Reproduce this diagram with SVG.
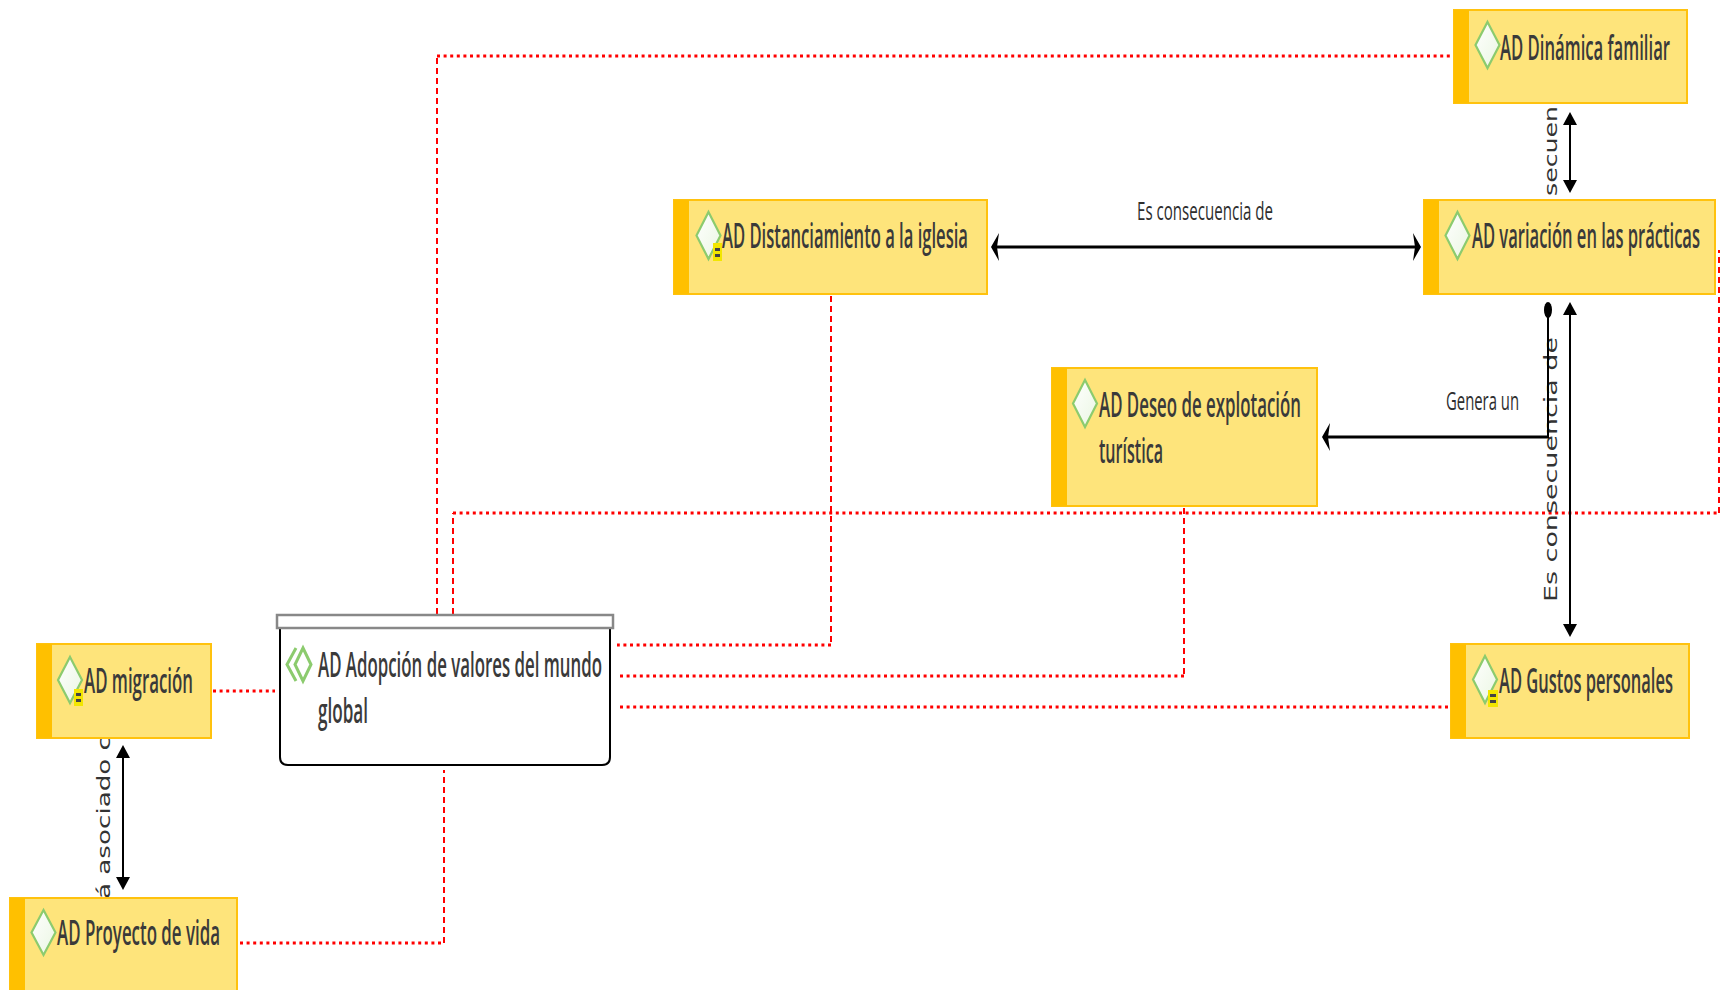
<svg xmlns="http://www.w3.org/2000/svg" width="1726" height="990" viewBox="0 0 1726 990">
<style>
.box{fill:#FEE47B;stroke:#FFC20E;stroke-width:2}
.strip{fill:#FFC000}
.dia{fill:url(#dg);stroke:#8CCB6E;stroke-width:2.2}
.ico{fill:#F2E600}
.icob{fill:#444}
.t{font-family:"Open Sans","Liberation Sans",sans-serif;font-size:34px;font-weight:600;fill:#3A3A3A}
.lbl{font-family:"Open Sans","Liberation Sans",sans-serif;font-size:26px;fill:#2E2E2E}
.vl{font-family:"DejaVu Sans","Liberation Sans",sans-serif;font-size:17px;fill:#333}
.rh{fill:none;stroke:#FF0000;stroke-width:3;stroke-dasharray:3 3.6}
.rv{fill:none;stroke:#FF0000;stroke-width:2;stroke-dasharray:6 4}
.lh{fill:none;stroke:#000;stroke-width:3}
.lv{fill:none;stroke:#000;stroke-width:2}
.ah{fill:#000}
</style>
<defs>
<linearGradient id="dg" x1="0" y1="0" x2="1" y2="1">
<stop offset="0" stop-color="#FFFFFF"/>
<stop offset="1" stop-color="#EAF6E2"/>
</linearGradient>
<path id="aL" d="M0,0 L8,-14 L6,0 L8,14 Z"/>
<path id="aR" d="M0,0 L-8,-14 L-6,0 L-8,14 Z"/>
<path id="aU" d="M0,0 L7,13 L-7,13 Z"/>
<path id="aD" d="M0,0 L7,-13 L-7,-13 Z"/>
</defs>
<rect width="1726" height="990" fill="#FFFFFF"/>
<g id="connectors">
<path class="rv" d="M437,614 V56"/>
<path class="rh" d="M437,56 H1452"/>
<path class="rv" d="M453,614 V513"/>
<path class="rh" d="M453,513 H1719"/>
<path class="rv" d="M1719,513 V250"/>
<path class="rv" d="M831,296 V645"/>
<path class="rh" d="M831,645 H617"/>
<path class="rv" d="M1184,508 V676"/>
<path class="rh" d="M1184,676 H617"/>
<path class="rh" d="M1448,707 H617"/>
<path class="rh" d="M213,691 H275"/>
<path class="rh" d="M240,943 H444"/>
<path class="rv" d="M444,943 V770"/>
<path class="lh" d="M996,247 H1416"/>
<use href="#aL" class="ah" x="991" y="247"/>
<use href="#aR" class="ah" x="1421" y="247"/>
<text class="lbl" x="1137" y="220" textLength="136" lengthAdjust="spacingAndGlyphs">Es consecuencia de</text>
<path class="lv" d="M1570,122 V183"/>
<use href="#aU" class="ah" x="1570" y="112"/>
<use href="#aD" class="ah" x="1570" y="193"/>
<text class="vl" transform="translate(1557,196) rotate(-90)" textLength="90" lengthAdjust="spacingAndGlyphs">secuen</text>
<path class="lv" d="M1570,312 V627"/>
<use href="#aU" class="ah" x="1570" y="302"/>
<use href="#aD" class="ah" x="1570" y="637"/>
<text class="vl" transform="translate(1557,602) rotate(-90)" textLength="265" lengthAdjust="spacingAndGlyphs">Es consecuencia de</text>
<ellipse cx="1548" cy="310" rx="4" ry="8" fill="#000"/>
<path class="lv" d="M1548,310 V437"/>
<path class="lh" d="M1549,437 H1328"/>
<use href="#aL" class="ah" x="1322" y="437"/>
<text class="lbl" x="1446" y="410" textLength="73" lengthAdjust="spacingAndGlyphs">Genera un</text>
<path class="lv" d="M123,755 V880"/>
<use href="#aU" class="ah" x="123" y="745"/>
<use href="#aD" class="ah" x="123" y="890"/>
<text class="vl" transform="translate(110,899) rotate(-90)" textLength="163" lengthAdjust="spacingAndGlyphs">á asociado c</text>
</g>
<g id="node-dinamica">
<rect class="box" x="1454" y="10" width="233" height="93"/>
<rect class="strip" x="1454" y="10" width="15" height="93"/>
<path class="dia" d="M1487.5,22 L1499.5,45 L1487.5,68 L1475.5,45 Z"/>
<text class="t" x="1500" y="60" textLength="170" lengthAdjust="spacingAndGlyphs">AD Dinámica familiar</text>
</g>
<g id="node-distanciamiento">
<rect class="box" x="674" y="200" width="313" height="94"/>
<rect class="strip" x="674" y="200" width="15" height="94"/>
<path class="dia" d="M708.5,212 L720.5,235.5 L708.5,259 L696.5,235.5 Z"/>
<rect class="ico" x="713" y="243" width="9" height="18"/>
<rect class="icob" x="715" y="248" width="5" height="3"/>
<rect class="icob" x="715" y="254" width="5" height="3"/>
<text class="t" x="722" y="248" textLength="246" lengthAdjust="spacingAndGlyphs">AD Distanciamiento a la iglesia</text>
</g>
<g id="node-variacion">
<rect class="box" x="1424" y="200" width="291" height="94"/>
<rect class="strip" x="1424" y="200" width="15" height="94"/>
<path class="dia" d="M1457.5,212 L1469.5,235.5 L1457.5,259 L1445.5,235.5 Z"/>
<text class="t" x="1472" y="248" textLength="228" lengthAdjust="spacingAndGlyphs">AD variación en las prácticas</text>
</g>
<g id="node-deseo">
<rect class="box" x="1052" y="368" width="265" height="138"/>
<rect class="strip" x="1052" y="368" width="15" height="138"/>
<path class="dia" d="M1085,380 L1097,403.5 L1085,427 L1073,403.5 Z"/>
<text class="t" x="1099" y="417" textLength="202" lengthAdjust="spacingAndGlyphs">AD Deseo de explotación</text>
<text class="t" x="1099" y="463" textLength="64" lengthAdjust="spacingAndGlyphs">turística</text>
</g>
<g id="node-adopcion">
<path d="M280,628 V757 Q280,765 288,765 H602 Q610,765 610,757 V628" fill="#FFFFFF" stroke="#000" stroke-width="2"/>
<rect x="277" y="615" width="336" height="13" fill="#FFFFFF" stroke="#888" stroke-width="2.5"/>
<path d="M296,648 L287,664.5 L296,681" fill="none" stroke="#8CCB6E" stroke-width="3"/>
<path d="M303,648 L311,664.5 L303,681 L295,664.5 Z" fill="#FFFFFF" stroke="#8CCB6E" stroke-width="3"/>
<text class="t" x="318" y="677" textLength="284" lengthAdjust="spacingAndGlyphs">AD Adopción de valores del mundo</text>
<text class="t" x="318" y="723" textLength="50" lengthAdjust="spacingAndGlyphs">global</text>
</g>
<g id="node-migracion">
<rect class="box" x="37" y="644" width="174" height="94"/>
<rect class="strip" x="37" y="644" width="15" height="94"/>
<path class="dia" d="M70,657 L82,680 L70,703 L58,680 Z"/>
<rect class="ico" x="74" y="689" width="9" height="17"/>
<rect class="icob" x="76" y="693" width="5" height="3"/>
<rect class="icob" x="76" y="699" width="5" height="3"/>
<text class="t" x="84" y="693" textLength="109" lengthAdjust="spacingAndGlyphs">AD migración</text>
</g>
<g id="node-proyecto">
<rect class="box" x="10" y="898" width="227" height="96"/>
<rect class="strip" x="10" y="898" width="15" height="96"/>
<path class="dia" d="M43.5,910 L55.5,932.5 L43.5,955 L31.5,932.5 Z"/>
<text class="t" x="57" y="945" textLength="163" lengthAdjust="spacingAndGlyphs">AD Proyecto de vida</text>
</g>
<g id="node-gustos">
<rect class="box" x="1451" y="644" width="238" height="94"/>
<rect class="strip" x="1451" y="644" width="15" height="94"/>
<path class="dia" d="M1485,656 L1497,679.5 L1485,703 L1473,679.5 Z"/>
<rect class="ico" x="1488" y="690" width="10" height="17"/>
<rect class="icob" x="1490" y="694" width="6" height="3"/>
<rect class="icob" x="1490" y="700" width="6" height="3"/>
<text class="t" x="1499" y="693" textLength="174" lengthAdjust="spacingAndGlyphs">AD Gustos personales</text>
</g>
</svg>
